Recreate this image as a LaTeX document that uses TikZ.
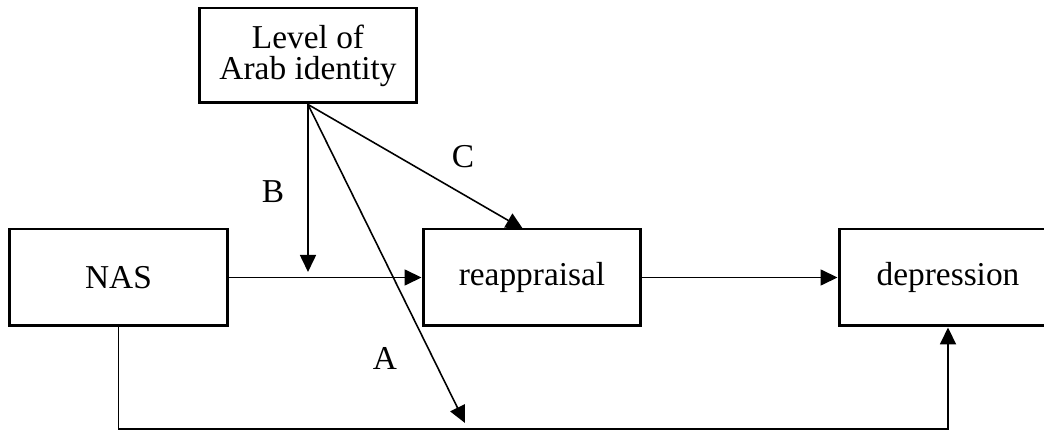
\documentclass[tikz,border=0pt]{standalone}
\usepackage{fontspec}
\setmainfont{Liberation Serif}
\usetikzlibrary{arrows.meta}

\begin{document}
\begin{tikzpicture}[
    x=0.02cm, y=-0.02cm,
    varbox/.style={draw, line width=1.7pt, rectangle, minimum width=4.36cm, minimum height=1.94cm, inner sep=0pt, align=center, font=\fontsize{19}{17.5}\selectfont},
    lbl/.style={font=\fontsize{19}{17.5}\selectfont},
    conn/.style={line width=0.9pt, -{Triangle[length=0.34cm,width=0.32cm]}}
]
    \useasboundingbox (0,0) rectangle (1044,431);

    \node[varbox, minimum height=1.9cm] (lvl) at (308,55.5) {Level of\\Arab identity};
    \node[varbox] (nas) at (118.5,277.5) {NAS};
    \node[varbox] (reapp) at (532,277.5) {reappraisal};
    \node[varbox] (dep) at (948,277.5) {depression};

    \coordinate (btip) at (308,272);
    \coordinate (ctip) at (523,229);
    \coordinate (atip) at (465,423);
    \coordinate (bot) at (0,429);

    \draw[conn] (nas) -- (reapp);
    \draw[conn] (reapp) -- (dep);
    \draw[conn] (lvl.south) -- (btip);
    \draw[conn] (lvl.south) -- (ctip);
    \draw[conn] (lvl.south) -- (atip);
    \draw[conn, line width=1.1pt] (nas.south) -- (nas.south |- bot) -- (dep.south |- bot) -- (dep.south);

    \node[lbl] (labB) at (273,192) {B};
    \node[lbl] (labC) at (463,157) {C};
    \node[lbl] (labA) at (385,358) {A};
\end{tikzpicture}
\end{document}
